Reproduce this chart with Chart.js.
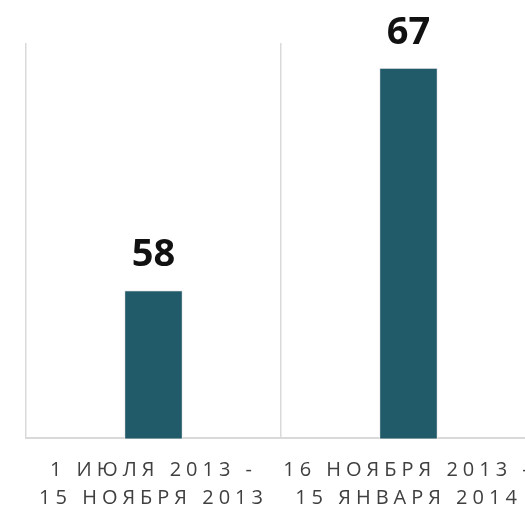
<!DOCTYPE html>
<html lang="ru">

<head>
    <meta charset="UTF-8">
    <title>Сравнение периодов</title>
    <script src="https://cdn.jsdelivr.net/npm/chart.js"></script>
    <style>
        html, body { margin: 0; padding: 0; background: #fff; overflow: hidden; }
        .chart-wrapper { width: 525px; height: 515px; overflow: hidden; }
    </style>
</head>

<body>
    <div class="chart-wrapper">
        <canvas id="periodChart" width="540" height="532"></canvas>
    </div>
    <script>
        // Данные
        const periods = [
            ["1 ИЮЛЯ 2013 -", "15 НОЯБРЯ 2013"],
            ["16 НОЯБРЯ 2013 -", "15 ЯНВАРЯ 2014"]
        ];
        const values = [58, 67];
        const yRange = [52, 68];

        // разреженные подписи оси X + значения над столбцами
        const spacingPlugin = {
            id: 'spacing',
            beforeDraw(chart) {
                chart.ctx.letterSpacing = '5px';
            },
            beforeDatasetsDraw(chart) {
                chart.ctx.letterSpacing = '0px';
            },
            afterDatasetsDraw(chart) {
                const ctx = chart.ctx;
                const meta = chart.getDatasetMeta(0);
                ctx.save();
                ctx.font = 'bold 38px "Open Sans"';
                ctx.fillStyle = '#111111';
                ctx.textAlign = 'center';
                ctx.textBaseline = 'alphabetic';
                meta.data.forEach((bar, i) => {
                    ctx.fillText(values[i], bar.x, bar.y - 24);
                });
                ctx.restore();
            }
        };

        const ctx = document.getElementById('periodChart').getContext('2d');
        new Chart(ctx, {
            type: 'bar',
            data: {
                labels: periods,
                datasets: [{
                    data: values,
                    backgroundColor: '#215a69',
                    borderColor: '#eeeeee',
                    borderWidth: 1,
                    categoryPercentage: 1,
                    barPercentage: 0.23
                }]
            },
            options: {
                responsive: false,
                animation: false,
                layout: {
                    padding: { left: 26, top: 43, right: 4, bottom: 2 }
                },
                plugins: {
                    legend: { display: false },
                    tooltip: { enabled: false }
                },
                scales: {
                    x: {
                        grid: {
                            display: true,
                            offset: true,
                            drawTicks: false,
                            color: '#d9d9d9',
                            lineWidth: 1.5
                        },
                        border: { display: true, color: '#d9d9d9', width: 2 },
                        ticks: {
                            color: '#404040',
                            font: { family: '"Open Sans"', size: 20, lineHeight: 1.44 },
                            padding: 17,
                            maxRotation: 0,
                            autoSkip: false
                        }
                    },
                    y: {
                        display: false,
                        min: yRange[0],
                        max: yRange[1]
                    }
                }
            },
            plugins: [spacingPlugin]
        });
    </script>
</body>

</html>
